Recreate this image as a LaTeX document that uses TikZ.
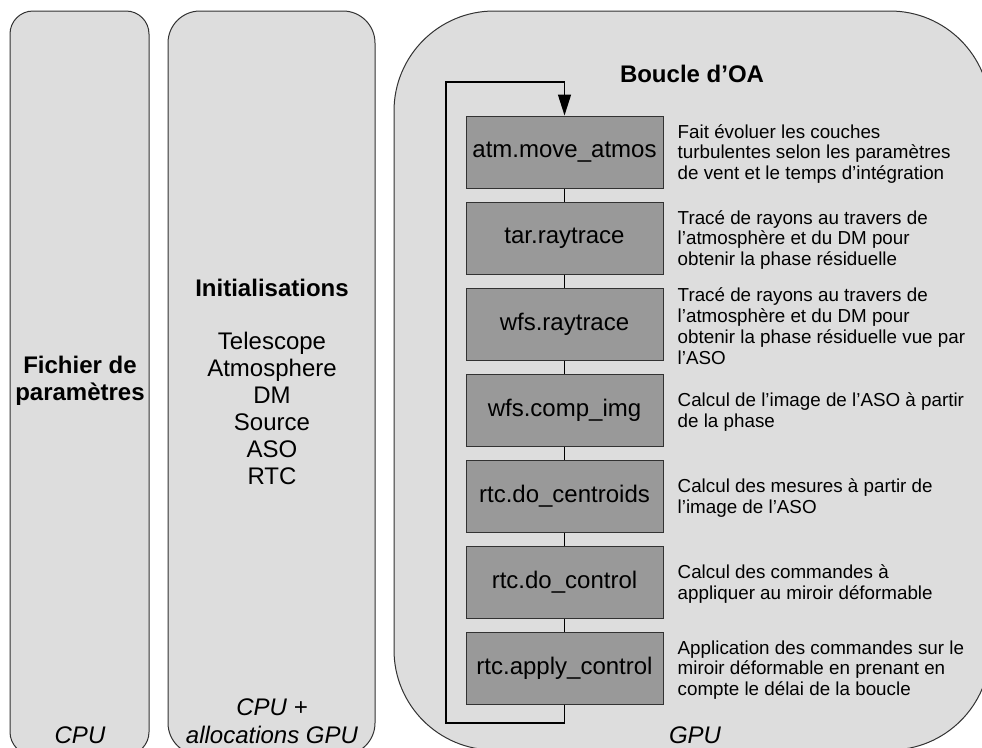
\documentclass[tikz,border=0pt]{standalone}
\usepackage{fontspec}
\setmainfont{Liberation Sans}
\usepackage{tikz}
\usetikzlibrary{arrows.meta, positioning, calc}
\definecolor{panelgray}{RGB}{221,221,221}
\definecolor{stepgray}{RGB}{153,153,153}
\definecolor{edgegray}{RGB}{50,50,50}
\tikzset{
  panel/.style={draw=edgegray, fill=panelgray, line width=1pt},
  stepbox/.style={rectangle, draw=edgegray, fill=stepgray,
    minimum width=197pt, minimum height=72pt, inner sep=0pt,
    font=\fontsize{24}{27}\selectfont, line width=1pt},
  desc/.style={align=left, inner sep=0pt, yshift=-2pt, font=\fontsize{18.8}{20.8}\selectfont},
  big/.style={align=center, inner sep=0pt, font=\fontsize{24}{27}\selectfont},
  loopline/.style={draw=black, line width=1.5pt},
  arrow/.style={-{Triangle[length=21pt, width=13pt]}, loopline}
}

\begin{document}
\begin{tikzpicture}[x=1pt, y=-1pt]
  \clip (0,0) rectangle (982,747);

  % Panels
  \draw[panel, rounded corners=23pt] (10,11) rectangle (149,755);
  \draw[panel, rounded corners=32pt] (168,11) rectangle (375,755);
  \draw[panel, rounded corners=100pt] (394,11) rectangle (990,750);

  % Left panel
  \node[big, font=\fontsize{24}{27}\selectfont\bfseries] (param) at (80,381) {Fichier de\\paramètres};
  \node[big, font=\fontsize{24}{27}\selectfont\itshape] (cpu) at (80,735) {CPU};

  % Middle panel
  \node[big, font=\fontsize{24}{27}\selectfont\bfseries] (init) at (272,288) {Initialisations};
  \node[big] (initlist) at (272,408) {Telescope\\Atmosphere\\DM\\Source\\ASO\\RTC};
  \node[big, font=\fontsize{24}{28}\selectfont\itshape] (cpugpu) at (272,721) {CPU +\\allocations GPU};

  % Right panel
  \node[big, font=\fontsize{24}{27}\selectfont\bfseries] (title) at (692,74) {Boucle d’OA};
  \node[big, font=\fontsize{24}{27}\selectfont\itshape] (gpu) at (695,735) {GPU};

  % Steps of the loop
  \node[stepbox] (move) at (564.5,152) {atm.move\_atmos};
  \node[stepbox] (tartrace) at (564.5,238) {tar.raytrace};
  \node[stepbox] (wfstrace) at (564.5,324) {wfs.raytrace};
  \node[stepbox] (compimg) at (564.5,410) {wfs.comp\_img};
  \node[stepbox] (centroids) at (564.5,496) {rtc.do\_centroids};
  \node[stepbox] (control) at (564.5,582) {rtc.do\_control};
  \node[stepbox] (apply) at (564.5,668) {rtc.apply\_control};

  % Descriptions
  \node[desc, right=14pt of move] (movetxt) {Fait évoluer les couches\\turbulentes selon les paramètres\\de vent et le temps d’intégration};
  \node[desc, right=14pt of tartrace] (tartxt) {Tracé de rayons au travers de\\l’atmosphère et du DM pour\\obtenir la phase résiduelle};
  \node[desc, right=14pt of wfstrace] (wfstxt) {Tracé de rayons au travers de\\l’atmosphère et du DM pour\\obtenir la phase résiduelle vue par\\l’ASO};
  \node[desc, right=14pt of compimg] (imgtxt) {Calcul de l’image de l’ASO à partir\\de la phase};
  \node[desc, right=14pt of centroids] (centtxt) {Calcul des mesures à partir de\\l’image de l’ASO};
  \node[desc, right=14pt of control] (ctrltxt) {Calcul des commandes à\\appliquer au miroir déformable};
  \node[desc, right=14pt of apply] (applytxt) {Application des commandes sur le\\miroir déformable en prenant en\\compte le délai de la boucle};

  % Links
  \draw[loopline] (move) -- (tartrace);
  \draw[loopline] (tartrace) -- (wfstrace);
  \draw[loopline] (wfstrace) -- (compimg);
  \draw[loopline] (compimg) -- (centroids);
  \draw[loopline] (centroids) -- (control);
  \draw[loopline] (control) -- (apply);

  % Loop back
  \coordinate (loopbl) at (446,723);
  \coordinate (looptl) at (446,82);
  \draw[arrow] (apply.south) |- (loopbl) -- (looptl) -| (move.north);
\end{tikzpicture}
\end{document}
